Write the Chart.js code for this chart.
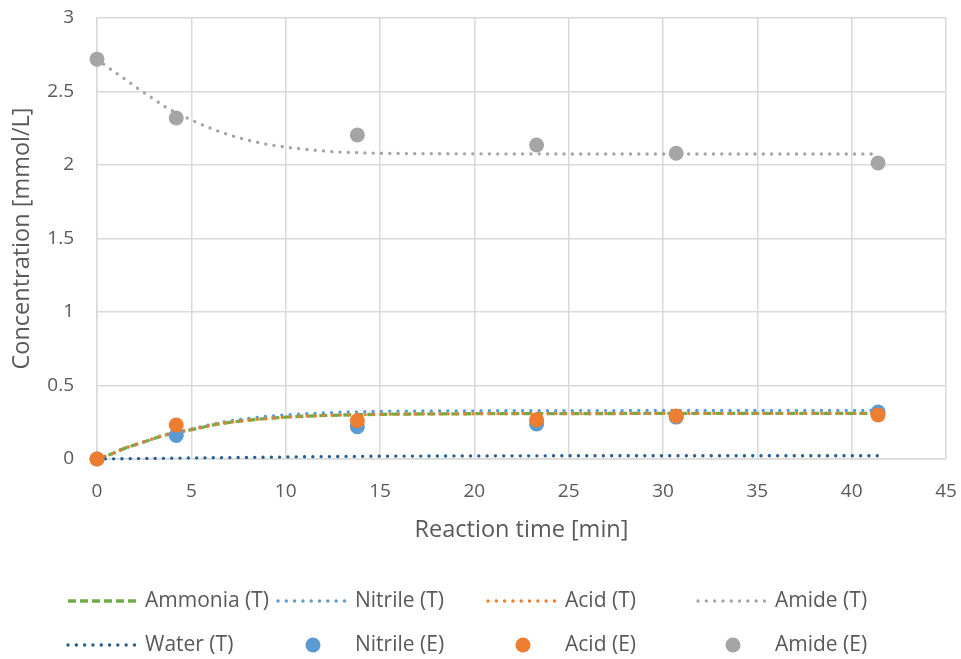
<!DOCTYPE html>
<html>
<head>
<meta charset="utf-8">
<script src="https://cdn.jsdelivr.net/npm/chart.js@4/dist/chart.umd.min.js"></script>
<style>
  html, body { margin: 0; padding: 0; background: #ffffff; }
  #wrap { position: relative; width: 961px; height: 659px; }
</style>
</head>
<body>
<div id="wrap"><canvas id="chart" width="961" height="659"></canvas></div>
<script>
// Model curves (T), sampled along the reaction time [min]
const timeT    = [0, 0.7, 1.5, 2.2, 2.9, 3.6, 4.2, 4.8, 5.6, 6.4, 7.2, 8.1, 8.9, 10.2, 11.6, 12.9, 15, 20, 25, 30, 35, 41.4];
const ammoniaT = [0, 0.031, 0.074, 0.104, 0.134, 0.163, 0.179, 0.194, 0.216, 0.238, 0.252, 0.265, 0.274, 0.286, 0.294, 0.299, 0.304, 0.308, 0.309, 0.31, 0.31, 0.31];
const nitrileT = [0, 0.031, 0.075, 0.105, 0.135, 0.165, 0.182, 0.198, 0.222, 0.245, 0.262, 0.277, 0.289, 0.301, 0.311, 0.318, 0.324, 0.328, 0.329, 0.33, 0.33, 0.33];
const acidT    = [0, 0.031, 0.074, 0.104, 0.134, 0.163, 0.179, 0.194, 0.216, 0.238, 0.252, 0.265, 0.274, 0.286, 0.294, 0.299, 0.304, 0.308, 0.309, 0.31, 0.31, 0.31];
const amideT   = [2.72, 2.653, 2.583, 2.517, 2.458, 2.397, 2.355, 2.318, 2.272, 2.231, 2.197, 2.166, 2.143, 2.118, 2.1, 2.088, 2.08, 2.076, 2.075, 2.075, 2.075, 2.075];
const waterT   = [0, 0.001, 0.002, 0.003, 0.004, 0.005, 0.006, 0.007, 0.008, 0.009, 0.01, 0.011, 0.012, 0.014, 0.016, 0.017, 0.019, 0.021, 0.022, 0.022, 0.022, 0.022];

// Experimental measurements (E)
const timeE    = [0, 4.2, 13.8, 23.3, 30.7, 41.4];
const nitrileE = [0, 0.16, 0.22, 0.238, 0.285, 0.32];
const acidE    = [0, 0.231, 0.26, 0.265, 0.293, 0.30];
const amideE   = [2.72, 2.32, 2.204, 2.136, 2.08, 2.014];

// Axis ticks
const xTicks = [0, 5, 10, 15, 20, 25, 30, 35, 40, 45];
const yTicks = [0, 0.5, 1, 1.5, 2, 2.5, 3];

const FONT = '"Open Sans", "Noto Sans", sans-serif';
const TEXT = '#595959';
const GRID = '#d9d9d9';

const pts = (xs, ys) => xs.map((x, i) => ({ x: x, y: ys[i] }));

const DOT = [0.1, 8.2];
const DASH = [8, 4];

function curve(label, ys, color, dash, cap) {
  return {
    label: label, kind: 'line', data: pts(timeT, ys), showLine: true,
    borderColor: color, backgroundColor: color, borderWidth: 3.3,
    borderDash: dash, borderCapStyle: cap, cubicInterpolationMode: 'monotone',
    pointRadius: 0, pointHoverRadius: 0, clip: false
  };
}
function marks(label, ys, color) {
  return {
    label: label, kind: 'point', data: pts(timeE, ys), showLine: false,
    backgroundColor: color, borderColor: color, borderWidth: 0,
    pointRadius: 7.5, pointHoverRadius: 7.5, clip: false
  };
}

const datasets = [
  curve('Ammonia (T)', ammoniaT, '#70ad47', DASH, 'butt'),
  curve('Nitrile (T)', nitrileT, '#5b9bd5', DOT, 'round'),
  curve('Acid (T)', acidT, '#ed7d31', DOT, 'round'),
  curve('Amide (T)', amideT, '#a5a5a5', DOT, 'round'),
  curve('Water (T)', waterT, '#255e91', DOT, 'round'),
  marks('Nitrile (E)', nitrileE, '#5b9bd5'),
  marks('Acid (E)', acidE, '#ed7d31'),
  marks('Amide (E)', amideE, '#a5a5a5')
];
// later series are painted over earlier ones
datasets.forEach((d, i) => { d.order = datasets.length - i; });

// Legend laid out in four columns below the plot
const legendPlugin = {
  id: 'gridLegend',
  afterDraw(chart) {
    const ctx = chart.ctx;
    const colX = [68, 278, 488, 698];
    const rowY = [601, 645];
    const sampleW = 69;
    ctx.save();
    chart.data.datasets.forEach((d, i) => {
      const x0 = colX[i % 4];
      const y = rowY[Math.floor(i / 4)];
      if (d.kind === 'line') {
        ctx.beginPath();
        ctx.strokeStyle = d.borderColor;
        ctx.lineWidth = d.borderWidth;
        ctx.lineCap = d.borderCapStyle;
        ctx.setLineDash(d.borderDash);
        ctx.moveTo(x0, y);
        ctx.lineTo(x0 + sampleW, y);
        ctx.stroke();
      } else {
        ctx.setLineDash([]);
        ctx.beginPath();
        ctx.fillStyle = d.backgroundColor;
        ctx.arc(x0 + 35, y, 7.5, 0, Math.PI * 2);
        ctx.fill();
      }
      ctx.setLineDash([]);
      ctx.fillStyle = TEXT;
      ctx.font = '21px ' + FONT;
      ctx.textBaseline = 'middle';
      ctx.textAlign = 'left';
      ctx.fillText(d.label, x0 + sampleW + 8, y);
    });
    ctx.restore();
  }
};

// keep the plot box where the layout padding puts it
function noEdgePadding(s) {
  s.paddingTop = 0; s.paddingBottom = 0; s.paddingLeft = 0; s.paddingRight = 0;
}

new Chart(document.getElementById('chart'), {
  type: 'scatter',
  data: { datasets: datasets },
  plugins: [legendPlugin],
  options: {
    responsive: false,
    animation: false,
    events: [],
    layout: { padding: { top: 18, right: 15, bottom: 100, left: 0 } },
    plugins: { legend: { display: false }, tooltip: { enabled: false } },
    scales: {
      x: {
        type: 'linear', min: 0, max: 45,
        afterFit: (s) => { s.height = 100; noEdgePadding(s); },
        afterBuildTicks: (s) => { s.ticks = xTicks.map(v => ({ value: v })); },
        grid: { color: GRID, lineWidth: 1.5, drawTicks: false },
        border: { color: GRID, width: 1.5 },
        ticks: { color: TEXT, font: { family: FONT, size: 19 }, padding: 21, maxRotation: 0,
                 callback: (v) => String(v) },
        title: { display: true, text: 'Reaction time [min]', color: TEXT,
                 font: { family: FONT, size: 23.5 }, padding: { top: 0, bottom: 15 } }
      },
      y: {
        type: 'linear', min: 0, max: 3,
        afterFit: (s) => { s.width = 97; noEdgePadding(s); },
        afterBuildTicks: (s) => { s.ticks = yTicks.map(v => ({ value: v })); },
        grid: { color: GRID, lineWidth: 1.5, drawTicks: false },
        border: { color: GRID, width: 1.5 },
        ticks: { color: TEXT, font: { family: FONT, size: 19 }, padding: 23,
                 callback: (v) => String(v) },
        title: { display: true, text: 'Concentration [mmol/L]', color: TEXT,
                 font: { family: FONT, size: 23.5 }, padding: { top: 8, bottom: 0 } }
      }
    }
  }
});
</script>
</body>
</html>
